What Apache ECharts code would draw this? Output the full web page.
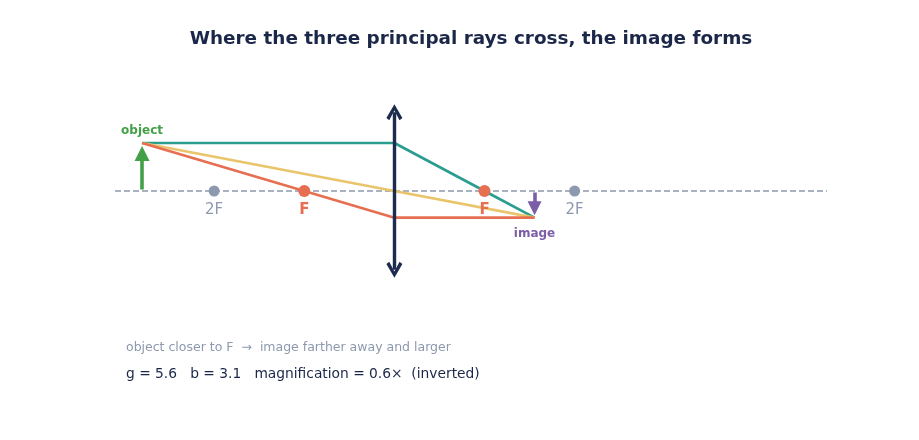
<!DOCTYPE html>
<html>
<head>
<meta charset="utf-8">
<script src="https://cdn.jsdelivr.net/npm/echarts@6/dist/echarts.min.js"></script>
<style>
  html, body { margin: 0; padding: 0; background: #fff; }
  #chart { width: 919px; height: 440px; }
</style>
</head>
<body>
<div id="chart"></div>
<script>
// thin lens, values in units (f = 2)
const focalX = [-2, 2];
const twoFocalX = [-4, 4];
const axisLine = [[-6.2, 0], [9.6, 0]];
const lensLine = [[0, -1.64], [0, 1.64]];
const parallelRay = [[-5.6, 1], [0, 1], [2, 0], [3.11, -0.555]];
const centralRay = [[-5.6, 1], [0, 0], [3.11, -0.555]];
const focalRay = [[-5.6, 1], [-2, 0], [0, -0.555], [3.11, -0.555]];
const objectArrow = [[-5.6, 0.03], [-5.6, 0.78]];
const imageArrow = [[3.11, -0.03], [3.11, -0.36]];
const objectLabelPos = [-5.6, 1.25];
const imageLabelPos = [3.11, -0.9];

const font = 'DejaVu Sans';
const chevron = 'path://M5,0 L10,8.3 L8.2,9.6 L5,3.8 L1.8,9.6 L0,8.3 Z';

function rayLine(name, data, color) {
    return {
        name: name,
        type: 'line',
        data: data,
        symbol: 'none',
        lineStyle: { color: color, width: 2.6 },
        z: 3
    };
}

function arrowLine(coords, color, width, symbol, size) {
    return {
        type: 'lines',
        coordinateSystem: 'cartesian2d',
        data: [{ coords: coords }],
        symbol: symbol,
        symbolSize: size,
        lineStyle: { color: color, width: width, opacity: 1 },
        z: 5
    };
}

function pointLabel(pos, text, color) {
    return {
        type: 'scatter',
        data: [pos],
        symbolSize: 0,
        itemStyle: { opacity: 1 },
        label: {
            show: true, position: 'inside', formatter: text,
            fontFamily: font, fontSize: 12, fontWeight: 'bold', color: color
        }
    };
}

const chart = echarts.init(document.getElementById('chart'));
chart.setOption({
    animation: false,
    backgroundColor: '#ffffff',
    textStyle: { fontFamily: font },
    title: {
        text: 'Where the three principal rays cross, the image forms',
        left: 466,
        top: 25,
        textAlign: 'center',
        textStyle: { fontFamily: font, fontSize: 18.4, fontWeight: 'bold', color: '#1b2748' }
    },
    grid: { left: 115, right: 92, top: 95, bottom: 153 },
    xAxis: { type: 'value', min: -6.2, max: 9.6, show: false },
    yAxis: { type: 'value', min: -2, max: 2, show: false },
    series: [
        {
            type: 'line',
            data: axisLine,
            symbol: 'none',
            lineStyle: { color: '#8d99ae', width: 1.3, type: [6, 3] },
            z: 1
        },
        rayLine('parallel', parallelRay, '#2a9d8f'),
        rayLine('central', centralRay, '#e9c46a'),
        rayLine('focal', focalRay, '#e76f51'),
        arrowLine(lensLine, '#1d2b4f', 3.4, [chevron, chevron], [16, 16]),
        arrowLine(objectArrow, '#43a047', 3.6, ['none', 'triangle'], [15, 15]),
        arrowLine(imageArrow, '#7b5ea7', 3.6, ['none', 'triangle'], [14, 14]),
        {
            type: 'scatter',
            data: twoFocalX.map(x => [x, 0]),
            symbolSize: 11,
            itemStyle: { color: '#8d99ae', opacity: 1 },
            label: {
                show: true, position: 'bottom', distance: 6,
                formatter: '2F', fontFamily: font, fontSize: 15, color: '#8d99ae'
            },
            z: 6
        },
        {
            type: 'scatter',
            data: focalX.map(x => [x, 0]),
            symbolSize: 12,
            itemStyle: { color: '#e76f51', opacity: 1 },
            label: {
                show: true, position: 'bottom', distance: 6,
                formatter: 'F', fontFamily: font, fontSize: 15, fontWeight: 'bold', color: '#e76f51'
            },
            z: 6
        },
        pointLabel(objectLabelPos, 'object', '#43a047'),
        pointLabel(imageLabelPos, 'image', '#7b5ea7')
    ],
    graphic: [
        {
            type: 'text', left: 126, top: 341,
            style: {
                text: 'object closer to F  \u2192  image farther away and larger',
                font: '12.5px "DejaVu Sans"', fill: '#8d99ae'
            }
        },
        {
            type: 'text', left: 126, top: 367,
            style: {
                text: 'g = 5.6   b = 3.1   magnification = 0.6\u00d7  (inverted)',
                font: '13.8px "DejaVu Sans"', fill: '#1b2748'
            }
        }
    ]
});
</script>
</body>
</html>
